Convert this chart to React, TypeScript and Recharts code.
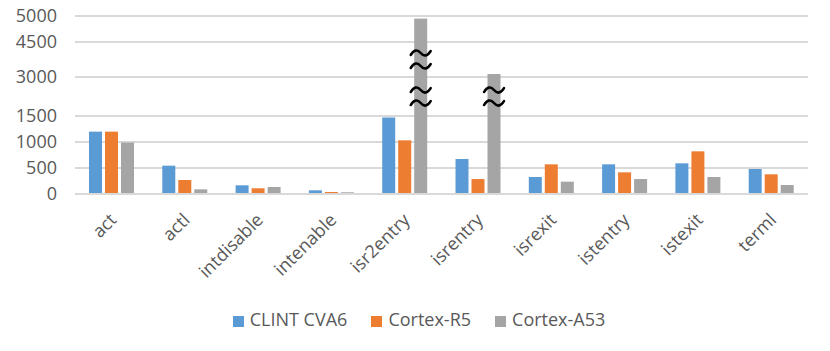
import { BarChart, Bar, XAxis, YAxis, CartesianGrid, Legend } from "recharts";

const categories = [
  "act",
  "actl",
  "intdisable",
  "intenable",
  "isr2entry",
  "isrentry",
  "isrexit",
  "istentry",
  "istexit",
  "terml",
];
const seriesNames = ["CLINT CVA6", "Cortex-R5", "Cortex-A53"];
const clintCva6 = [1200, 545, 167, 71, 1470, 673, 327, 571, 590, 481];
const cortexR5 = [1200, 269, 110, 38, 1033, 288, 571, 417, 821, 379];
const cortexA53 = [990, 90, 135, 33, 4950, 3130, 237, 288, 327, 173];

// broken y axis: tick values and where they sit, in 500-steps from the bottom
const axisLabels = [0, 500, 1000, 1500, 3000, 4500, 5000];
const axisSlots = [0, 1, 2, 3, 4.5, 5.85, 6.85];

const FONT = "'Open Sans', sans-serif";
const TEXT = "#595959";
const GRID = "#d9d9d9";

function toSlot(v: number) {
  for (let i = 0; i < axisLabels.length - 1; i++) {
    const a = axisLabels[i];
    const b = axisLabels[i + 1];
    if (v <= b) {
      return axisSlots[i] + ((v - a) / (b - a)) * (axisSlots[i + 1] - axisSlots[i]);
    }
  }
  return axisSlots[axisSlots.length - 1];
}

// compressed segments of the axis get a "≈" mark on bars passing through them
const breaks = axisLabels.slice(0, -1).flatMap((a, i) => {
  const b = axisLabels[i + 1];
  const slotSpan = axisSlots[i + 1] - axisSlots[i];
  return (b - a) / 500 > slotSpan + 0.01
    ? [{ mid: (axisSlots[i] + axisSlots[i + 1]) / 2, end: axisSlots[i + 1] }]
    : [];
});

const data = categories.map((name, i) => ({
  name,
  clint: toSlot(clintCva6[i]),
  r5: toSlot(cortexR5[i]),
  a53: toSlot(cortexA53[i]),
}));

function Tilde({ cx, cy }: { cx: number; cy: number }) {
  return (
    <path
      d={`M ${cx - 10} ${cy + 2} Q ${cx - 5} ${cy - 6} ${cx} ${cy} T ${cx + 10} ${cy - 2}`}
      fill="none"
      stroke="#000"
      strokeWidth={2.5}
      strokeLinecap="round"
    />
  );
}

function BrokenBar(props: any) {
  const { x, y, width, height, fill, payload } = props;
  const top = payload.a53;
  const bottom = y + height;
  const cx = x + width / 2;
  return (
    <g>
      <rect x={x} y={y} width={width} height={height} fill={fill} />
      {breaks
        .filter((b) => top > b.end)
        .map((b, i) => {
          const cy = bottom - (height * b.mid) / top;
          return (
            <g key={i}>
              <Tilde cx={cx} cy={cy - 6.5} />
              <Tilde cx={cx} cy={cy + 6.5} />
            </g>
          );
        })}
    </g>
  );
}

function AngledTick(props: any) {
  const { x, y, payload } = props;
  const tx = x + 6;
  const ty = y + 19;
  return (
    <text
      x={tx}
      y={ty}
      textAnchor="end"
      transform={`rotate(-45 ${tx} ${ty})`}
      fill={TEXT}
      fontSize={18}
      fontFamily={FONT}
    >
      {payload.value}
    </text>
  );
}

export default function App() {
  return (
    <div
      style={{
        position: "absolute",
        left: 0,
        top: 0,
        width: 830,
        height: 351,
        background: "#fff",
        fontFamily: FONT,
      }}
    >
      <BarChart
        width={830}
        height={351}
        data={data}
        margin={{ top: 16, right: 22, left: 0, bottom: 20 }}
        barSize={13}
        barGap={3}
      >
        <CartesianGrid vertical={false} stroke={GRID} strokeWidth={2} />
        <XAxis
          dataKey="name"
          height={113}
          interval={0}
          tickLine={false}
          axisLine={{ stroke: GRID, strokeWidth: 2 }}
          tick={<AngledTick />}
        />
        <YAxis
          width={75}
          domain={[0, axisSlots[axisSlots.length - 1]]}
          ticks={axisSlots}
          interval={0}
          tickFormatter={(v: number) => String(axisLabels[axisSlots.indexOf(v)])}
          axisLine={false}
          tickLine={false}
          tickSize={0}
          tickMargin={18}
          tick={{ fill: TEXT, fontSize: 18, fontFamily: FONT }}
        />
        <Legend
          verticalAlign="bottom"
          iconType="square"
          iconSize={11}
          wrapperStyle={{ left: 27 }}
          itemSorter={(item: any) => seriesNames.indexOf(item.value)}
          formatter={(v: string) => (
            <span style={{ color: TEXT, fontSize: 18, paddingLeft: 2, paddingRight: 14 }}>
              {v}
            </span>
          )}
        />
        <Bar dataKey="clint" name={seriesNames[0]} fill="#5b9bd5" isAnimationActive={false} />
        <Bar dataKey="r5" name={seriesNames[1]} fill="#ed7d31" isAnimationActive={false} />
        <Bar
          dataKey="a53"
          name={seriesNames[2]}
          fill="#a5a5a5"
          shape={<BrokenBar />}
          isAnimationActive={false}
        />
      </BarChart>
    </div>
  );
}
